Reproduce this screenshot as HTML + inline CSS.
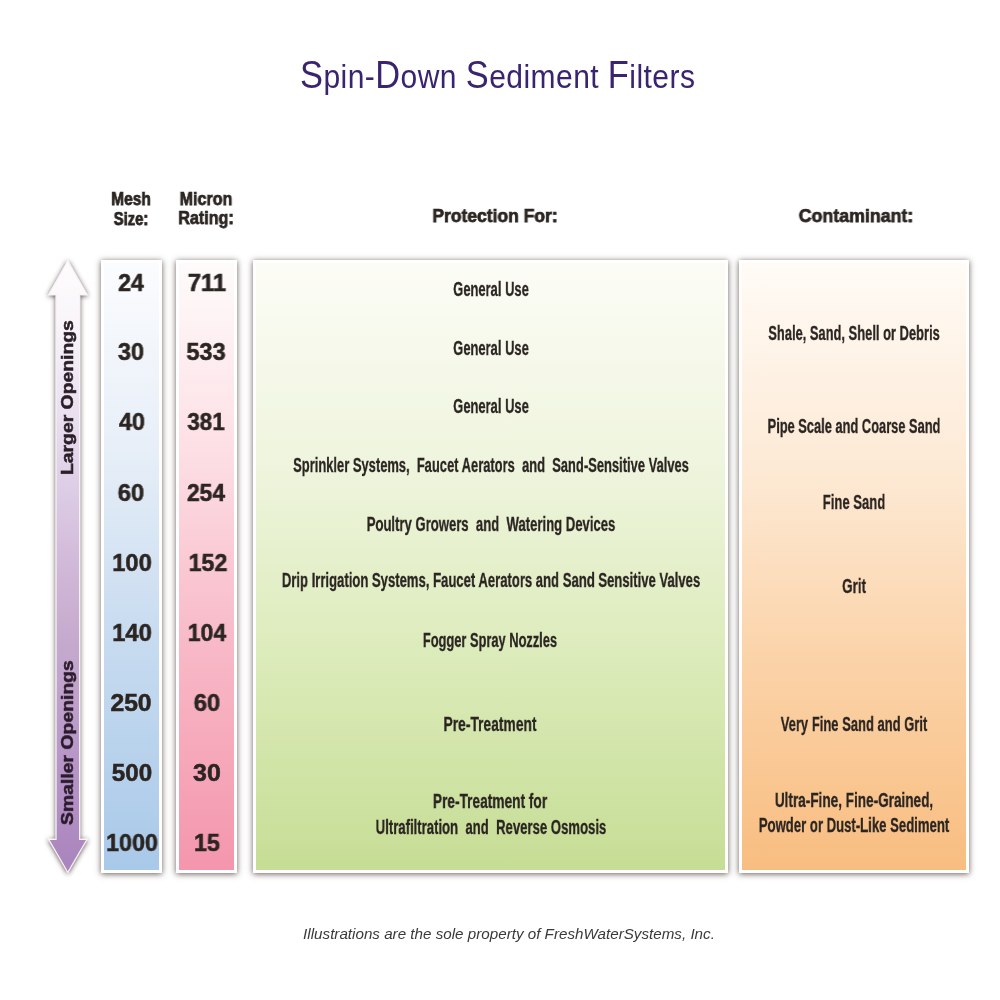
<!DOCTYPE html>
<html><head><meta charset="utf-8"><style>
html,body{margin:0;padding:0;}
body{width:1000px;height:1000px;position:relative;overflow:hidden;background:#fff;font-family:"Liberation Sans",sans-serif;}
.t{position:absolute;white-space:pre;transform-origin:50% 50%;}

.box{position:absolute;box-sizing:border-box;border:3.3px solid #fff;
 box-shadow:0 0.8px 6px rgba(55,40,32,0.75);}
#bmesh{left:101px;top:259.5px;width:61px;height:613.5px;background:linear-gradient(#fbfcfe 0%,#e8eff8 30%,#c9dcf0 60%,#a9c9e9 100%);}
#bmic{left:176px;top:259.5px;width:61px;height:613.5px;background:linear-gradient(#fefbfb 0%,#fde0e6 30%,#f8bac8 62%,#f496ad 100%);}
#bprot{left:253px;top:259.5px;width:475px;height:613.5px;background:linear-gradient(#fcfcf6 0%,#eef4dc 35%,#dcebba 65%,#c6dd95 100%);}
#bcont{left:739.2px;top:259.5px;width:230.2px;height:613.5px;background:linear-gradient(#fffbf6 0%,#fde9d4 35%,#fbd3a9 65%,#f8bd80 100%);}
.t{-webkit-text-stroke:0.3px currentColor;will-change:transform;}
#h_mesh,#h_size,#h_micron,#h_rating,#h_prot,#h_cont{-webkit-text-stroke:0.75px currentColor;}
#m0,#m1,#m2,#m3,#m4,#m5,#m6,#m7,#m8,#u0,#u1,#u2,#u3,#u4,#u5,#u6,#u7,#u8,#rotL,#rotS{-webkit-text-stroke:0.55px currentColor;}
#title,#foot{-webkit-text-stroke:0;}


</style></head><body>
<div id="title" style="position:absolute;left:300px;top:50px;white-space:pre;color:#3a2470;font-size:34px;line-height:50px;letter-spacing:0.5px;transform-origin:0 0;transform:scaleX(0.883);"><span style="font-size:39px">S</span>pin-<span style="font-size:39px">D</span>own <span style="font-size:39px">S</span>ediment <span style="font-size:39px">F</span>ilters</div>
<div class="box" id="bmesh"></div>
<div class="box" id="bmic"></div>
<div class="box" id="bprot"></div>
<div class="box" id="bcont"></div>
<svg style="position:absolute;left:0;top:0" width="1000" height="1000">
<defs>
<linearGradient id="ag" x1="0" y1="260" x2="0" y2="873" gradientUnits="userSpaceOnUse">
<stop offset="0" stop-color="#fefdfd"/><stop offset="0.1" stop-color="#f9f5f9"/><stop offset="0.28" stop-color="#e6dcee"/><stop offset="0.51" stop-color="#d0b7d8"/><stop offset="0.62" stop-color="#c6aacd"/><stop offset="0.8" stop-color="#b898c8"/><stop offset="1" stop-color="#a984bd"/>
</linearGradient>
<filter id="sh" x="-50%" y="-10%" width="200%" height="120%"><feGaussianBlur in="SourceAlpha" stdDeviation="2.7"/><feOffset dx="0.3" dy="0.6" result="b"/><feFlood flood-color="#3c2c26" flood-opacity="0.85"/><feComposite in2="b" operator="in"/><feMerge><feMergeNode/><feMergeNode in="SourceGraphic"/></feMerge></filter>
</defs>
<polygon filter="url(#sh)" points="67.8,261 87,294.6 79.6,294.6 79.6,839.4 87,839.4 67.8,872.2 48.7,839.4 56.1,839.4 56.1,294.6 48.7,294.6" fill="url(#ag)" stroke="#fbf2fa" stroke-width="1.1"/>
</svg>

<div class="t" id="h_mesh" style="top:188.14px;left:130.64px;font-size:18px;line-height:23.4px;font-weight:bold;font-style:normal;color:#2b2522;transform:translateX(-50%) scaleX(0.8623);">Mesh</div>
<div class="t" id="h_size" style="top:208.02px;left:131.48px;font-size:18px;line-height:23.4px;font-weight:bold;font-style:normal;color:#2b2522;transform:translateX(-50%) scaleX(0.8247);">Size:</div>
<div class="t" id="h_micron" style="top:188.14px;left:205.60px;font-size:18px;line-height:23.4px;font-weight:bold;font-style:normal;color:#2b2522;transform:translateX(-50%) scaleX(0.8947);">Micron</div>
<div class="t" id="h_rating" style="top:207.42px;left:205.68px;font-size:18px;line-height:23.4px;font-weight:bold;font-style:normal;color:#2b2522;transform:translateX(-50%) scaleX(0.8954);">Rating:</div>
<div class="t" id="h_prot" style="top:205.18px;left:494.58px;font-size:18px;line-height:23.4px;font-weight:bold;font-style:normal;color:#2b2522;transform:translateX(-50%) scaleX(0.9710);">Protection For:</div>
<div class="t" id="h_cont" style="top:205.18px;left:856.35px;font-size:18px;line-height:23.4px;font-weight:bold;font-style:normal;color:#2b2522;transform:translateX(-50%) scaleX(0.9877);">Contaminant:</div>
<div class="t" id="p1" style="top:277.36px;left:490.56px;font-size:19.5px;line-height:25.35px;font-weight:bold;font-style:normal;color:#2b2522;transform:translateX(-50%) scaleX(0.6658);">General Use</div>
<div class="t" id="p2" style="top:335.56px;left:490.56px;font-size:19.5px;line-height:25.35px;font-weight:bold;font-style:normal;color:#2b2522;transform:translateX(-50%) scaleX(0.6658);">General Use</div>
<div class="t" id="p3" style="top:394.36px;left:490.56px;font-size:19.5px;line-height:25.35px;font-weight:bold;font-style:normal;color:#2b2522;transform:translateX(-50%) scaleX(0.6658);">General Use</div>
<div class="t" id="p4" style="top:452.56px;left:490.82px;font-size:19.5px;line-height:25.35px;font-weight:bold;font-style:normal;color:#2b2522;transform:translateX(-50%) scaleX(0.6635);">Sprinkler Systems,  Faucet Aerators  and  Sand-Sensitive Valves</div>
<div class="t" id="p5" style="top:512.20px;left:490.87px;font-size:19.5px;line-height:25.35px;font-weight:bold;font-style:normal;color:#2b2522;transform:translateX(-50%) scaleX(0.6721);">Poultry Growers  and  Watering Devices</div>
<div class="t" id="p6" style="top:568.00px;left:490.87px;font-size:19.5px;line-height:25.35px;font-weight:bold;font-style:normal;color:#2b2522;transform:translateX(-50%) scaleX(0.6709);">Drip Irrigation Systems, Faucet Aerators and Sand Sensitive Valves</div>
<div class="t" id="p7" style="top:627.56px;left:490.43px;font-size:19.5px;line-height:25.35px;font-weight:bold;font-style:normal;color:#2b2522;transform:translateX(-50%) scaleX(0.6591);">Fogger Spray Nozzles</div>
<div class="t" id="p8" style="top:711.88px;left:490.36px;font-size:19.5px;line-height:25.35px;font-weight:bold;font-style:normal;color:#2b2522;transform:translateX(-50%) scaleX(0.7090);">Pre-Treatment</div>
<div class="t" id="p9" style="top:789.00px;left:490.39px;font-size:19.5px;line-height:25.35px;font-weight:bold;font-style:normal;color:#2b2522;transform:translateX(-50%) scaleX(0.7031);">Pre-Treatment for</div>
<div class="t" id="p10" style="top:815.00px;left:490.71px;font-size:19.5px;line-height:25.35px;font-weight:bold;font-style:normal;color:#2b2522;transform:translateX(-50%) scaleX(0.6736);">Ultrafiltration  and  Reverse Osmosis</div>
<div class="t" id="c1" style="top:321.20px;left:854.20px;font-size:19.5px;line-height:25.35px;font-weight:bold;font-style:normal;color:#2b2522;transform:translateX(-50%) scaleX(0.6620);">Shale, Sand, Shell or Debris</div>
<div class="t" id="c2" style="top:413.84px;left:854.43px;font-size:19.5px;line-height:25.35px;font-weight:bold;font-style:normal;color:#2b2522;transform:translateX(-50%) scaleX(0.6589);">Pipe Scale and Coarse Sand</div>
<div class="t" id="c3" style="top:490.20px;left:854.23px;font-size:19.5px;line-height:25.35px;font-weight:bold;font-style:normal;color:#2b2522;transform:translateX(-50%) scaleX(0.6711);">Fine Sand</div>
<div class="t" id="c4" style="top:573.84px;left:854.05px;font-size:19.5px;line-height:25.35px;font-weight:bold;font-style:normal;color:#2b2522;transform:translateX(-50%) scaleX(0.6900);">Grit</div>
<div class="t" id="c5" style="top:711.72px;left:854.39px;font-size:19.5px;line-height:25.35px;font-weight:bold;font-style:normal;color:#2b2522;transform:translateX(-50%) scaleX(0.6666);">Very Fine Sand and Grit</div>
<div class="t" id="c6" style="top:787.68px;left:854.25px;font-size:19.5px;line-height:25.35px;font-weight:bold;font-style:normal;color:#2b2522;transform:translateX(-50%) scaleX(0.6960);">Ultra-Fine, Fine-Grained,</div>
<div class="t" id="c7" style="top:813.00px;left:854.14px;font-size:19.5px;line-height:25.35px;font-weight:bold;font-style:normal;color:#2b2522;transform:translateX(-50%) scaleX(0.6734);">Powder or Dust-Like Sediment</div>
<div class="t" id="foot" style="top:924.37px;left:509.17px;font-size:15px;line-height:19.5px;font-weight:normal;font-style:italic;color:#3a3a3a;transform:translateX(-50%) scaleX(1.0128);">Illustrations are the sole property of FreshWaterSystems, Inc.</div>
<div class="t" id="m0" style="top:266.72px;left:131.46px;font-size:24px;line-height:31.2px;font-weight:bold;font-style:normal;color:#2b2522;transform:translateX(-50%) scaleX(0.9609);">24</div>
<div class="t" id="u0" style="top:266.72px;left:206.56px;font-size:24px;line-height:31.2px;font-weight:bold;font-style:normal;color:#2b2522;transform:translateX(-50%) scaleX(0.9952);">711</div>
<div class="t" id="m1" style="top:336.28px;left:131.41px;font-size:24px;line-height:31.2px;font-weight:bold;font-style:normal;color:#2b2522;transform:translateX(-50%) scaleX(0.9828);">30</div>
<div class="t" id="u1" style="top:336.28px;left:206.38px;font-size:24px;line-height:31.2px;font-weight:bold;font-style:normal;color:#2b2522;transform:translateX(-50%) scaleX(0.9802);">533</div>
<div class="t" id="m2" style="top:406.44px;left:131.50px;font-size:24px;line-height:31.2px;font-weight:bold;font-style:normal;color:#2b2522;transform:translateX(-50%) scaleX(0.9755);">40</div>
<div class="t" id="u2" style="top:406.44px;left:205.65px;font-size:24px;line-height:31.2px;font-weight:bold;font-style:normal;color:#2b2522;transform:translateX(-50%) scaleX(0.9338);">381</div>
<div class="t" id="m3" style="top:476.60px;left:131.25px;font-size:24px;line-height:31.2px;font-weight:bold;font-style:normal;color:#2b2522;transform:translateX(-50%) scaleX(0.9958);">60</div>
<div class="t" id="u3" style="top:476.60px;left:205.69px;font-size:24px;line-height:31.2px;font-weight:bold;font-style:normal;color:#2b2522;transform:translateX(-50%) scaleX(0.9492);">254</div>
<div class="t" id="m4" style="top:546.76px;left:132.08px;font-size:24px;line-height:31.2px;font-weight:bold;font-style:normal;color:#2b2522;transform:translateX(-50%) scaleX(0.9881);">100</div>
<div class="t" id="u4" style="top:546.76px;left:207.61px;font-size:24px;line-height:31.2px;font-weight:bold;font-style:normal;color:#2b2522;transform:translateX(-50%) scaleX(0.9650);">152</div>
<div class="t" id="m5" style="top:616.92px;left:132.08px;font-size:24px;line-height:31.2px;font-weight:bold;font-style:normal;color:#2b2522;transform:translateX(-50%) scaleX(0.9881);">140</div>
<div class="t" id="u5" style="top:616.92px;left:206.92px;font-size:24px;line-height:31.2px;font-weight:bold;font-style:normal;color:#2b2522;transform:translateX(-50%) scaleX(0.9592);">104</div>
<div class="t" id="m6" style="top:687.08px;left:131.28px;font-size:24px;line-height:31.2px;font-weight:bold;font-style:normal;color:#2b2522;transform:translateX(-50%) scaleX(1.0296);">250</div>
<div class="t" id="u6" style="top:687.08px;left:207.21px;font-size:24px;line-height:31.2px;font-weight:bold;font-style:normal;color:#2b2522;transform:translateX(-50%) scaleX(0.9958);">60</div>
<div class="t" id="m7" style="top:757.24px;left:131.72px;font-size:24px;line-height:31.2px;font-weight:bold;font-style:normal;color:#2b2522;transform:translateX(-50%) scaleX(1.0065);">500</div>
<div class="t" id="u7" style="top:757.24px;left:206.67px;font-size:24px;line-height:31.2px;font-weight:bold;font-style:normal;color:#2b2522;transform:translateX(-50%) scaleX(1.0394);">30</div>
<div class="t" id="m8" style="top:827.40px;left:132.38px;font-size:24px;line-height:31.2px;font-weight:bold;font-style:normal;color:#2b2522;transform:translateX(-50%) scaleX(0.9699);">1000</div>
<div class="t" id="u8" style="top:827.40px;left:207.17px;font-size:24px;line-height:31.2px;font-weight:bold;font-style:normal;color:#2b2522;transform:translateX(-50%) scaleX(0.9742);">15</div>
<div class="t" id="rotL" style="top:475.13px;left:55.82px;font-size:17.4px;line-height:22.62px;font-weight:bold;font-style:normal;color:#2a1f28;transform-origin:0 0;transform:rotate(-90deg) scaleX(1.1125);">Larger Openings</div>
<div class="t" id="rotS" style="top:824.92px;left:55.98px;font-size:17.4px;line-height:22.62px;font-weight:bold;font-style:normal;color:#2a1a2c;transform-origin:0 0;transform:rotate(-90deg) scaleX(1.1139);">Smaller Openings</div>
</body></html>
